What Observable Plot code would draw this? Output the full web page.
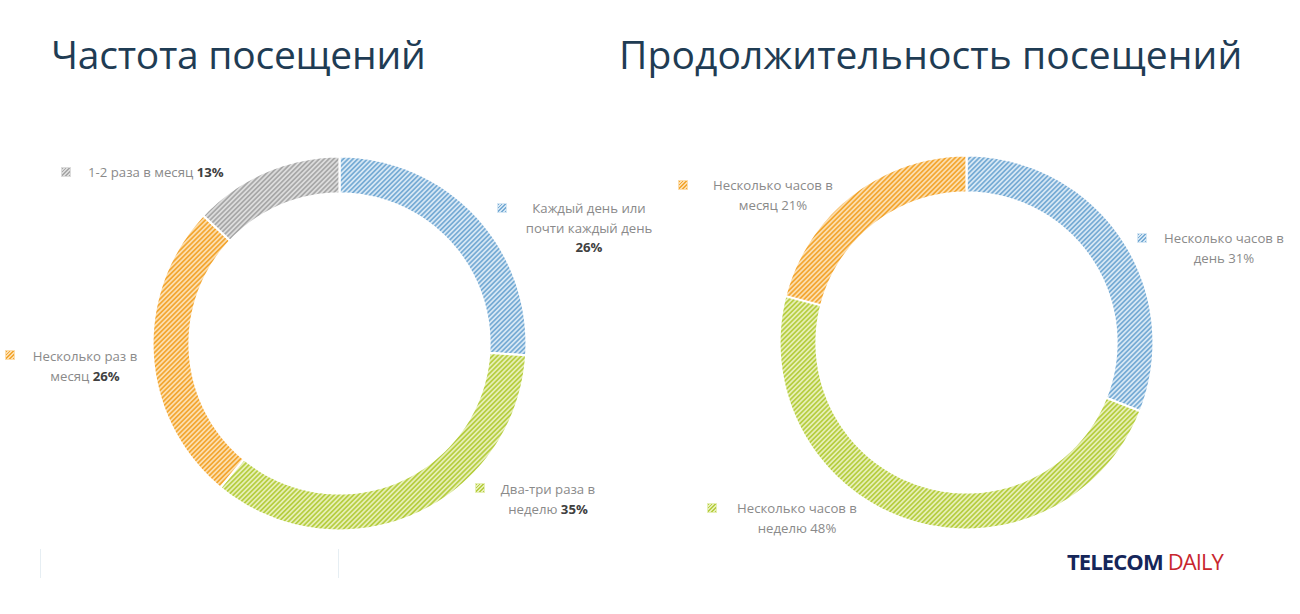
<!DOCTYPE html>
<html>
<head>
<meta charset="utf-8">
<script src="https://cdn.jsdelivr.net/npm/d3@7"></script>
<script src="https://cdn.jsdelivr.net/npm/@observablehq/plot@0.6"></script>
<style>
  html, body { margin: 0; padding: 0; background: #fff; }
  body { width: 1300px; height: 614px; position: relative; overflow: hidden; font-family: "Open Sans", "Noto Sans", sans-serif; }
  .title { position: absolute; top: 27px; font-size: 39px; color: #1f3c54; font-weight: 400; white-space: nowrap; letter-spacing: -0.25px; }
  .lab { position: absolute; font-size: 13.2px; line-height: 19.5px; color: #8a8a8a; text-align: center; white-space: nowrap; transform: translateX(-50%); }
  .lab.left { transform: none; text-align: left; }
  .lab b { color: #404040; font-weight: 700; }
  .sq { position: absolute; width: 8px; height: 8px; }
  #chart { position: absolute; left: 0; top: 0; }
  .logo { position: absolute; left: 1067px; top: 546px; font-size: 22px; letter-spacing: -0.9px; white-space: nowrap; font-family: "Open Sans", sans-serif; }
  .logo .t { color: #15265a; font-weight: 700; }
  .logo .d { color: #c8262e; font-weight: 400; }
  .faint { position: absolute; top: 549px; height: 29px; width: 1px; background: #e6eef3; }
</style>
</head>
<body>
<svg width="0" height="0" style="position:absolute">
  <defs id="defs"></defs>
</svg>
<div id="chart"></div>
<div id="overlay"></div>
<script>
// ---- data ----
const freqCategories = ["Каждый день или почти каждый день", "Два-три раза в неделю", "Несколько раз в месяц", "1-2 раза в месяц"];
const freqValues = [26, 35, 26, 13];
const freqColors = ["blue", "green", "orange", "gray"];
const freqLabelLines = [["Каждый день или", "почти каждый день"], ["Два-три раза в", "неделю"], ["Несколько раз в", "месяц"], ["1-2 раза в месяц"]];

const durCategories = ["Несколько часов в день", "Несколько часов в неделю", "Несколько часов в месяц"];
const durValues = [31, 48, 21];
const durColors = ["blue", "green", "orange"];
const durLabelLines = [["Несколько часов в", "день"], ["Несколько часов в", "неделю"], ["Несколько часов в", "месяц"]];

const titles = ["Частота посещений", "Продолжительность посещений"];

// ---- styles ----
const palette = {
  blue:   {dark: "#78acd5", light: "#d6e7f4"},
  green:  {dark: "#b7ce42", light: "#e6efb6"},
  orange: {dark: "#f3a733", light: "#fcdeae"},
  gray:   {dark: "#a8a8a8", light: "#dcdcdc"}
};
const defs = document.getElementById("defs");
for (const [k, c] of Object.entries(palette)) {
  defs.insertAdjacentHTML("beforeend",
    `<pattern id="hatch-${k}" patternUnits="userSpaceOnUse" width="3.4" height="3.4" patternTransform="rotate(45)">
       <rect width="3.4" height="3.4" fill="${c.light}"/>
       <rect width="1.7" height="3.4" fill="${c.dark}"/>
     </pattern>`);
}

// ---- layout ----
const W = 1300, H = 614;
const donuts = [
  {cx: 339, cy: 343, rOuter: 187, rInner: 150, cats: freqCategories, vals: freqValues, cols: freqColors, lines: freqLabelLines, boldPct: true,
   labels: [{x: 589, y: 199, sqx: 498, sqy: 204}, {x: 548, y: 480, sqx: 476, sqy: 484}, {x: 85, y: 347, sqx: 6, sqy: 351}, {x: 88, y: 163, sqx: 62, sqy: 168, left: true}]},
  {cx: 966, cy: 342, rOuter: 187, rInner: 150, cats: durCategories, vals: durValues, cols: durColors, lines: durLabelLines, boldPct: false,
   labels: [{x: 1224, y: 229, sqx: 1138, sqy: 234}, {x: 797, y: 499, sqx: 708, sqy: 504}, {x: 773, y: 176, sqx: 679, sqy: 181}]}
];

// build slice polygons from values
const marks = [];
for (const d of donuts) {
  const total = d3.sum(d.vals);
  let acc = 0;
  d.vals.forEach((v, i) => {
    const a0 = acc / total * 2 * Math.PI;
    acc += v;
    const a1 = acc / total * 2 * Math.PI;
    const n = Math.max(4, Math.ceil((a1 - a0) / (Math.PI / 180)));
    const pts = [];
    for (let j = 0; j <= n; j++) {
      const a = a0 + (a1 - a0) * j / n;
      pts.push({x: d.cx + d.rOuter * Math.sin(a), y: d.cy - d.rOuter * Math.cos(a), cat: d.cats[i]});
    }
    for (let j = n; j >= 0; j--) {
      const a = a0 + (a1 - a0) * j / n;
      pts.push({x: d.cx + d.rInner * Math.sin(a), y: d.cy - d.rInner * Math.cos(a), cat: d.cats[i]});
    }
    marks.push(Plot.line(pts, {x: "x", y: "y", curve: "linear-closed", fill: `url(#hatch-${d.cols[i]})`, stroke: "white", strokeWidth: 2.2}));
  });
}

const plot = Plot.plot({
  width: W, height: H,
  margin: 0,
  x: {domain: [0, W], range: [0, W], axis: null},
  y: {domain: [0, H], range: [0, H], axis: null},
  style: {background: "transparent"},
  marks
});
document.getElementById("chart").appendChild(plot);

// ---- overlay text ----
const ov = document.getElementById("overlay");
ov.insertAdjacentHTML("beforeend", `<div class="title" style="left:51px">${titles[0]}</div>`);
ov.insertAdjacentHTML("beforeend", `<div class="title" style="left:619px; letter-spacing:0.1px">${titles[1]}</div>`);

function sqStyle(col) {
  const c = palette[col];
  return `background: repeating-linear-gradient(-45deg, ${c.dark} 0 1.3px, ${c.light} 1.3px 2.6px); outline: 1px solid ${c.light};`;
}
for (const d of donuts) {
  d.labels.forEach((L, i) => {
    const lines = d.lines[i].slice();
    const pct = d.vals[i] + "%";
    const pctHtml = d.boldPct ? `<b>${pct}</b>` : pct;
    let html;
    if (d.cats[i] === "Каждый день или почти каждый день") {
      html = lines.join("<br>") + "<br>" + pctHtml;
    } else {
      lines[lines.length - 1] = lines[lines.length - 1] + " " + pctHtml;
      html = lines.join("<br>");
    }
    ov.insertAdjacentHTML("beforeend", `<div class="lab${L.left ? " left" : ""}" style="left:${L.x}px; top:${L.y}px">${html}</div>`);
    ov.insertAdjacentHTML("beforeend", `<div class="sq" style="left:${L.sqx}px; top:${L.sqy}px; ${sqStyle(d.cols[i])}"></div>`);
  });
}
ov.insertAdjacentHTML("beforeend", `<div class="logo"><span class="t">TELECOM</span> <span class="d">DAILY</span></div>`);
ov.insertAdjacentHTML("beforeend", `<div class="faint" style="left:40px"></div><div class="faint" style="left:338px"></div>`);
</script>
</body>
</html>
